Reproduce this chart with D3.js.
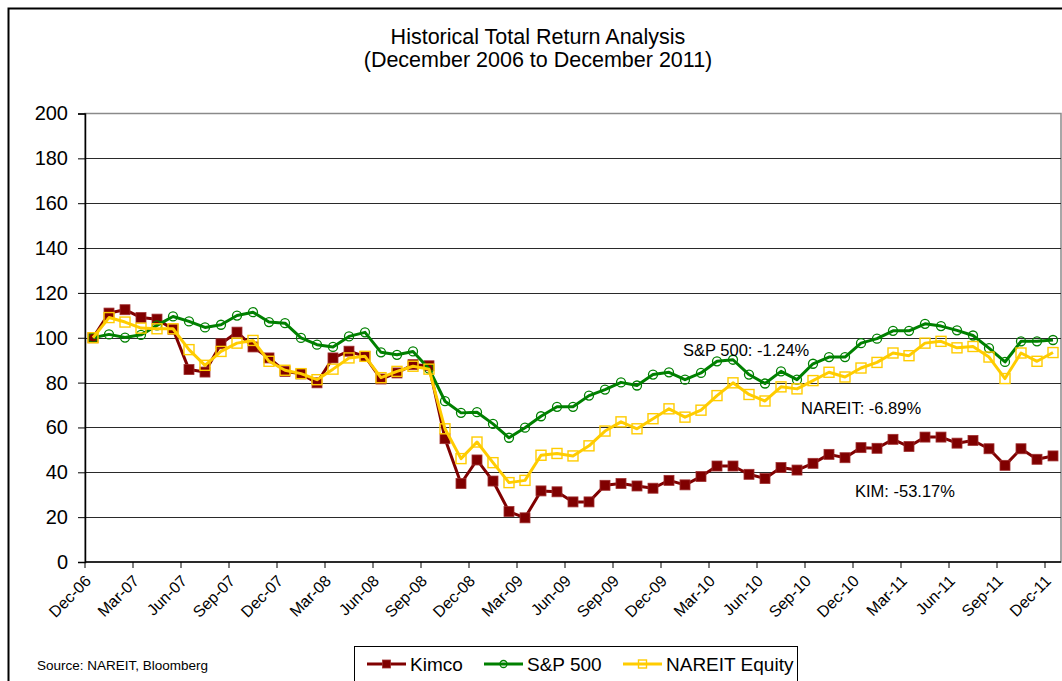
<!DOCTYPE html>
<html>
<head>
<meta charset="utf-8">
<script src="https://cdn.jsdelivr.net/npm/d3@7"></script>
<style>
  html, body { margin: 0; padding: 0; background: #fff; }
  svg { display: block; font-family: "Liberation Sans", Arial, sans-serif; }
</style>
</head>
<body>
<div id="chart"></div>
<script>
const months = [
    "Dec-06", "Jan-07", "Feb-07", "Mar-07", "Apr-07", "May-07", "Jun-07", "Jul-07", "Aug-07", "Sep-07", "Oct-07", "Nov-07",
    "Dec-07", "Jan-08", "Feb-08", "Mar-08", "Apr-08", "May-08", "Jun-08", "Jul-08", "Aug-08", "Sep-08", "Oct-08", "Nov-08",
    "Dec-08", "Jan-09", "Feb-09", "Mar-09", "Apr-09", "May-09", "Jun-09", "Jul-09", "Aug-09", "Sep-09", "Oct-09", "Nov-09",
    "Dec-09", "Jan-10", "Feb-10", "Mar-10", "Apr-10", "May-10", "Jun-10", "Jul-10", "Aug-10", "Sep-10", "Oct-10", "Nov-10",
    "Dec-10", "Jan-11", "Feb-11", "Mar-11", "Apr-11", "May-11", "Jun-11", "Jul-11", "Aug-11", "Sep-11", "Oct-11", "Nov-11",
    "Dec-11"
];

const tickLabels = ["Dec-06", "Mar-07", "Jun-07", "Sep-07", "Dec-07", "Mar-08", "Jun-08", "Sep-08", "Dec-08", "Mar-09",
    "Jun-09", "Sep-09", "Dec-09", "Mar-10", "Jun-10", "Sep-10", "Dec-10", "Mar-11", "Jun-11", "Sep-11", "Dec-11"];

const yTicks = [0, 20, 40, 60, 80, 100, 120, 140, 160, 180, 200];

const kimco = [
    100, 111, 112.5, 109, 108.3, 103.8, 85.8, 84.7, 97.3, 102.5, 95.9, 91,
    85, 83.9, 79.9, 91, 94, 91.7, 81.6, 84.3, 88, 87.5, 55, 35,
    45.5, 36.1, 22.5, 19.7, 31.7, 31.3, 26.8, 26.8, 34.2, 35, 33.9, 32.9,
    36.4, 34.4, 38.1, 42.8, 42.8, 39.1, 37.2, 42.1, 41, 44, 48, 46.5,
    51, 50.7, 54.7, 51.5, 55.7, 55.7, 53, 54.2, 50.5, 43.1, 50.5, 45.8,
    47.3
];

const sp500 = [
    100, 101.5, 100.1, 101.3, 105.5, 109.5, 107.3, 104.6, 105.8, 109.9, 111.4, 107,
    106.5, 99.9, 96.9, 95.9, 100.6, 102.4, 93.5, 92.4, 93.9, 86.2, 71.7, 66.5,
    66.8, 61.6, 55.4, 59.9, 65, 69.2, 69.2, 74.2, 76.9, 80.1, 78.7, 83.6,
    84.6, 81.3, 84.3, 89.5, 90.2, 83.6, 79.6, 85, 81.3, 88.4, 91.4, 91.4,
    97.6, 99.6, 103.1, 103.1, 106.2, 105.2, 103.3, 101, 95.4, 89.2, 98.4, 98.4,
    99
];

const nareit = [
    100, 109, 107, 104.3, 104, 104, 94.7, 87.7, 93.9, 97.6, 98.8, 89.5,
    85.5, 84, 81.3, 86, 91, 91.7, 82.2, 85, 87.3, 86, 59.4, 46.1,
    53.5, 44.3, 35.4, 36.4, 47.6, 48.4, 47.3, 51.8, 58.4, 62.5, 59.4, 63.9,
    68.3, 64.6, 67.7, 74.2, 79.9, 74.7, 71.8, 78.1, 77.2, 80.9, 84.6, 82.5,
    86.5, 89, 93.2, 92, 97.6, 98.4, 95.5, 96.1, 91.4, 81.8, 93.2, 89.5,
    93.4
];

const seriesNames = ["Kimco", "S&P 500", "NAREIT Equity"];
const notes = ["S&P 500: -1.24%", "NAREIT: -6.89%", "KIM: -53.17%"];

const width = 1062;
const height = 681;
const plot = { left: 85, right: 1061, top: 113.5, bottom: 562 };

const svg = d3.select("#chart")
    .append("svg")
    .attr("width", width)
    .attr("height", height);

// outer chart frame (runs off the right/bottom like the source)
svg.append("rect")
    .attr("x", 8.5).attr("y", 8.5)
    .attr("width", 1100).attr("height", 720)
    .attr("fill", "#fff")
    .attr("stroke", "#000")
    .attr("stroke-width", 2);

svg.append("text")
    .attr("x", 538).attr("y", 44)
    .attr("text-anchor", "middle")
    .style("font-size", "21.5px")
    .text("Historical Total Return Analysis");

svg.append("text")
    .attr("x", 538).attr("y", 67)
    .attr("text-anchor", "middle")
    .style("font-size", "21.5px")
    .text("(December 2006 to December 2011)");

const x = d3.scaleBand()
    .domain(months)
    .range([plot.left, plot.right])
    .paddingInner(0).paddingOuter(0);

const y = d3.scaleLinear()
    .domain([0, 200])
    .range([plot.bottom, plot.top]);

const cx = d => x(d) + x.bandwidth() / 2;

// plot area border
svg.append("rect")
    .attr("x", plot.left).attr("y", plot.top)
    .attr("width", plot.right - plot.left)
    .attr("height", plot.bottom - plot.top)
    .attr("fill", "none")
    .attr("stroke", "#8a8a8a")
    .attr("stroke-width", 1.5);

// gridlines
svg.append("g")
    .selectAll("line")
    .data(yTicks.filter(v => v > 0 && v < 200))
    .join("line")
    .attr("x1", plot.left).attr("x2", plot.right)
    .attr("y1", d => Math.round(y(d)) + 0.5)
    .attr("y2", d => Math.round(y(d)) + 0.5)
    .attr("stroke", "#2a2a2a")
    .attr("stroke-width", 1);

// y axis
const yAxis = svg.append("g")
    .attr("transform", `translate(${plot.left},0)`)
    .call(d3.axisLeft(y).tickValues(yTicks).tickSize(7).tickPadding(10));
yAxis.select(".domain").attr("stroke", "#000").attr("stroke-width", 1.5);
yAxis.selectAll(".tick line").attr("stroke", "#000");
yAxis.selectAll(".tick text")
    .style("font-size", "20px")
    .style("font-family", "'Liberation Sans', Arial, sans-serif")
    .attr("fill", "#000");

// x axis: ticks on category boundaries every 3 months
const xAxisG = svg.append("g");
xAxisG.append("line")
    .attr("x1", plot.left).attr("x2", plot.right)
    .attr("y1", plot.bottom).attr("y2", plot.bottom)
    .attr("stroke", "#000").attr("stroke-width", 1.5);

const boundaries = d3.range(0, months.length, 3).map(i => x(months[i]));
xAxisG.selectAll(".xtick")
    .data(boundaries)
    .join("line")
    .attr("class", "xtick")
    .attr("x1", d => d).attr("x2", d => d)
    .attr("y1", plot.bottom).attr("y2", plot.bottom + 6)
    .attr("stroke", "#000");

xAxisG.selectAll(".xlabel")
    .data(tickLabels)
    .join("text")
    .attr("class", "xlabel")
    .attr("text-anchor", "end")
    .attr("transform", d => `translate(${cx(d) - 1},${plot.bottom + 20}) rotate(-45)`)
    .style("font-size", "16px")
    .text(d => d);

// series
const series = [
    { name: seriesNames[0], values: kimco, color: "#800000", marker: "filled-square" },
    { name: seriesNames[1], values: sp500, color: "#008000", marker: "circle" },
    { name: seriesNames[2], values: nareit, color: "#FFCC00", marker: "square" }
];

const line = d3.line()
    .x((d, i) => cx(months[i]))
    .y(d => y(d));

function drawMarker(sel, s, size) {
    if (s.marker === "circle") {
        sel.append("circle")
            .attr("r", size / 2)
            .attr("fill", "none")
            .attr("stroke", s.color)
            .attr("stroke-width", 1.3);
    } else if (s.marker === "filled-square") {
        sel.append("rect")
            .attr("x", -size / 2).attr("y", -size / 2)
            .attr("width", size).attr("height", size)
            .attr("fill", s.color)
            .attr("stroke", "#a03030")
            .attr("stroke-width", 0.8);
    } else {
        sel.append("rect")
            .attr("x", -size / 2).attr("y", -size / 2)
            .attr("width", size).attr("height", size)
            .attr("fill", "none")
            .attr("stroke", s.color)
            .attr("stroke-width", 1.4);
    }
}

series.forEach(s => {
    const g = svg.append("g");
    g.append("path")
        .datum(s.values)
        .attr("d", line)
        .attr("fill", "none")
        .attr("stroke", s.color)
        .attr("stroke-width", 3)
        .attr("stroke-linejoin", "round");

    g.selectAll("g.pt")
        .data(s.values)
        .join("g")
        .attr("class", "pt")
        .attr("transform", (d, i) => `translate(${cx(months[i])},${y(d)})`)
        .each(function () { drawMarker(d3.select(this), s, s.marker === "circle" ? 9 : 10); });
});

// annotations
const notePos = [[683, 356], [801, 414], [855, 497]];
svg.selectAll(".note")
    .data(notes)
    .join("text")
    .attr("class", "note")
    .attr("x", (d, i) => notePos[i][0])
    .attr("y", (d, i) => notePos[i][1])
    .style("font-size", "16.5px")
    .text(d => d);

// source
svg.append("text")
    .attr("x", 37).attr("y", 670)
    .style("font-size", "13.5px")
    .text("Source: NAREIT, Bloomberg");

// legend
const legend = svg.append("g");
legend.append("rect")
    .attr("x", 354.5).attr("y", 646.5)
    .attr("width", 443).attr("height", 60)
    .attr("fill", "#fff")
    .attr("stroke", "#000")
    .attr("stroke-width", 1);

const legendX = [367, 484, 623];
series.forEach((s, i) => {
    const item = legend.append("g")
        .attr("transform", `translate(${legendX[i]},664)`);
    item.append("line")
        .attr("x1", 0).attr("x2", 39)
        .attr("y1", 0).attr("y2", 0)
        .attr("stroke", s.color)
        .attr("stroke-width", 3);
    const m = item.append("g").attr("transform", "translate(19.5,0)");
    drawMarker(m, s, s.marker === "circle" ? 7 : 8);
    item.append("text")
        .attr("x", 43).attr("y", 7)
        .style("font-size", "19px")
        .text(s.name);
});
</script>
</body>
</html>
